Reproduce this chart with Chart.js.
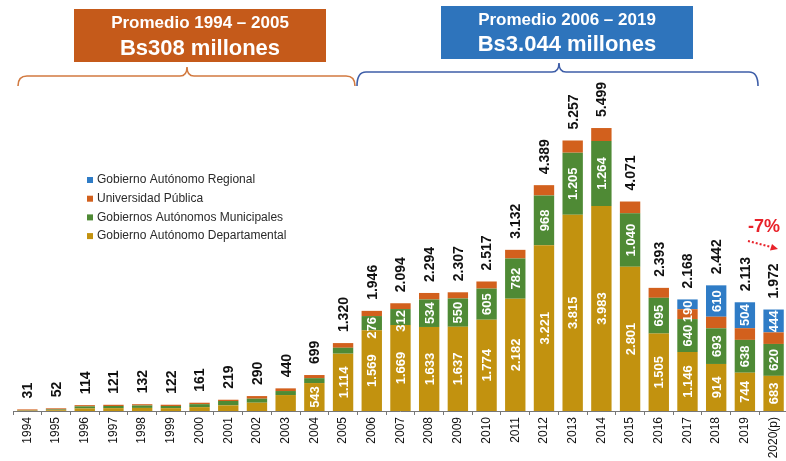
<!DOCTYPE html>
<html>
<head>
<meta charset="utf-8">
<script src="https://cdn.jsdelivr.net/npm/chart.js@4/dist/chart.umd.min.js"></script>
<style>
  html, body { margin: 0; padding: 0; background: #fff; overflow: hidden; }
  #wrap { width: 786px; height: 461px; overflow: hidden; }
</style>
</head>
<body>
<div id="wrap"><canvas id="chart" width="790" height="461"></canvas></div>
<script>
/* ── Data (millones de Bs) ── */
const years = ['1994','1995','1996','1997','1998','1999','2000','2001','2002','2003','2004','2005',
  '2006','2007','2008','2009','2010','2011','2012','2013','2014','2015','2016','2017','2018','2019','2020(p)'];
const departamental = [5, 15, 50, 55, 60, 55, 75, 110, 161, 310, 543, 1114,
  1569, 1669, 1633, 1637, 1774, 2182, 3221, 3815, 3983, 2801, 1505, 1146, 914, 744, 683];
const municipales = [6, 15, 40, 42, 47, 42, 58, 84, 78, 78, 95, 115,
  276, 312, 534, 550, 605, 782, 968, 1205, 1264, 1040, 695, 640, 693, 638, 620];
const universidad = [20, 22, 24, 24, 25, 25, 28, 25, 51, 52, 61, 91,
  101, 113, 127, 120, 138, 168, 200, 237, 252, 230, 193, 192, 225, 227, 225];
const regional = [0, 0, 0, 0, 0, 0, 0, 0, 0, 0, 0, 0,
  0, 0, 0, 0, 0, 0, 0, 0, 0, 0, 0, 190, 610, 504, 444];

const FONT = '"Liberation Sans", Arial, sans-serif';
const C_DEP = '#C2920F', C_MUN = '#4F8A35', C_UNI = '#D2601D', C_REG = '#2F7CC6';

const fmt = n => String(n).replace(/\B(?=(\d{3})+(?!\d))/g, '.');

/* ── Labels, boxes, braces, legend ── */
const decor = {
  id: 'decor',
  afterDatasetsDraw(chart) {
    const c = chart.ctx, ys = chart.scales.y;
    const metas = chart.data.datasets.map((_, i) => chart.getDatasetMeta(i));

    // inner white labels
    c.save();
    c.fillStyle = '#fff';
    c.font = `bold 13px ${FONT}`;
    c.textAlign = 'center'; c.textBaseline = 'middle';
    chart.data.datasets.forEach((ds, di) => {
      if (ds.minLabel == null) return;
      ds.data.forEach((v, i) => {
        if (!v || v < ds.minLabel) return;
        const el = metas[di].data[i];
        const txt = fmt(v);
        const half = c.measureText(txt).width / 2;
        // keep the label inside the bar when the segment is too short
        const cy = Math.max((el.y + el.base) / 2, el.y + half + 1);
        c.save();
        c.translate(el.x, cy);
        c.rotate(-Math.PI / 2);
        c.fillText(txt, 0, 1);
        c.restore();
      });
    });

    // totals above bars
    c.fillStyle = '#111';
    c.font = `bold 14px ${FONT}`;
    c.textAlign = 'left';
    years.forEach((_, i) => {
      const tot = departamental[i] + municipales[i] + universidad[i] + regional[i];
      const x = metas[0].data[i].x;
      const y = ys.getPixelForValue(tot) - 11;
      c.save();
      c.translate(x, y);
      c.rotate(-Math.PI / 2);
      c.fillText(fmt(tot), 0, 1);
      c.restore();
    });
    c.restore();
  },
  afterDraw(chart) {
    const c = chart.ctx;
    c.save();

    // legend
    c.font = `12px ${FONT}`;
    c.textBaseline = 'middle'; c.textAlign = 'left';
    chart.data.datasets.slice().reverse().forEach((ds, i) => {
      const y = 180 + i * 18.7;
      c.fillStyle = ds.backgroundColor;
      c.fillRect(87, y - 3, 6, 6);
      c.fillStyle = '#2a2a2a';
      c.fillText(ds.label, 97, y);
    });

    // title boxes
    function box(x0, x1, y0, y1, col, t1, t2, ty1, ty2) {
      c.fillStyle = col;
      c.fillRect(x0, y0, x1 - x0, y1 - y0);
      c.fillStyle = '#fff';
      c.textAlign = 'center'; c.textBaseline = 'middle';
      c.font = `bold 17px ${FONT}`;
      c.fillText(t1, (x0 + x1) / 2, ty1);
      c.font = `bold 22px ${FONT}`;
      c.fillText(t2, (x0 + x1) / 2, ty2);
    }
    box(74, 326, 9, 62, '#C55A1A', 'Promedio 1994 – 2005', 'Bs308 millones', 23, 49);
    box(441, 693, 6, 59, '#2E74BC', 'Promedio 2006 – 2019', 'Bs3.044 millones', 20, 45);

    // braces
    function brace(x0, x1, xm, yH, yPk, yEnd, col) {
      const r = 9, rp = 7;
      c.beginPath();
      c.moveTo(x0, yEnd);
      c.quadraticCurveTo(x0, yH, x0 + r, yH);
      c.lineTo(xm - rp, yH);
      c.quadraticCurveTo(xm, yH, xm, yPk);
      c.quadraticCurveTo(xm, yH, xm + rp, yH);
      c.lineTo(x1 - r, yH);
      c.quadraticCurveTo(x1, yH, x1, yEnd);
      c.strokeStyle = col; c.lineWidth = 1.6; c.stroke();
    }
    brace(18, 355, 187, 76, 67, 86, '#D27A40');
    brace(357, 758, 559, 72, 63, 86, '#3E5EA8');

    // -7% annotation
    c.fillStyle = '#E8222A';
    c.font = `bold 18px ${FONT}`;
    c.textAlign = 'center'; c.textBaseline = 'middle';
    c.fillText('-7%', 764, 227);
    c.strokeStyle = '#E8222A'; c.lineWidth = 2;
    c.setLineDash([2, 2]);
    c.beginPath(); c.moveTo(748, 241); c.lineTo(771, 247); c.stroke();
    c.setLineDash([]);
    c.beginPath();
    c.moveTo(778, 249); c.lineTo(770, 250.5); c.lineTo(772, 244); c.closePath();
    c.fill();
    c.restore();
  }
};

/* ── Chart ── */
const bar = (label, data, color, minLabel) => ({
  label, data, backgroundColor: color, borderWidth: 0,
  barPercentage: 0.71, categoryPercentage: 1, minLabel
});

new Chart(document.getElementById('chart'), {
  type: 'bar',
  data: {
    labels: years,
    datasets: [
      bar('Gobierno Autónomo Departamental', departamental, C_DEP, 500),
      bar('Gobiernos Autónomos Municipales', municipales, C_MUN, 250),
      bar('Universidad Pública', universidad, C_UNI, null),
      bar('Gobierno Autónomo Regional', regional, C_REG, 1)
    ]
  },
  options: {
    responsive: false, animation: false,
    layout: { padding: { top: 102, left: 13, right: 1, bottom: 0 } },
    plugins: { legend: { display: false }, tooltip: { enabled: false } },
    scales: {
      x: {
        stacked: true,
        grid: { drawOnChartArea: false, drawTicks: true, tickLength: 4, color: '#777', offset: true },
        border: { display: true, color: '#777', width: 1 },
        ticks: { minRotation: 90, maxRotation: 90, autoSkip: false, padding: 2,
                 color: '#111', font: { family: FONT, size: 12 } },
        afterFit: s => { s.height = 50; }
      },
      y: { stacked: true, display: false, min: 0, max: 6005 }
    }
  },
  plugins: [decor]
});
</script>
</body>
</html>
